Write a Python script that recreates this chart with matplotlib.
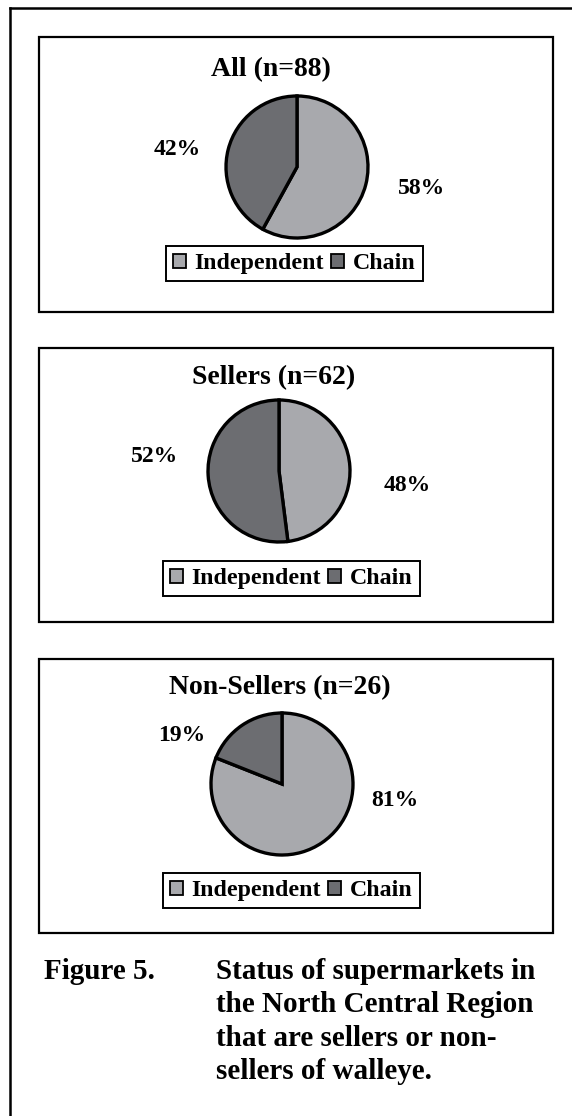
import numpy as np
import matplotlib
matplotlib.use("Agg")
import matplotlib.pyplot as plt
from matplotlib.patches import Rectangle, Patch

# chart data
categories = ["Independent", "Chain"]
panel_titles = ["All (n=88)", "Sellers (n=62)", "Non-Sellers (n=26)"]
all_values = [58, 42]
sellers_values = [48, 52]
nonsellers_values = [81, 19]
caption_label = "Figure 5."
caption_lines = ["Status of supermarkets in",
                 "the North Central Region",
                 "that are sellers or non-",
                 "sellers of walleye."]

# layout (pixels)
W, H = 572, 1116
colors = ["#a8a9ad", "#6c6d71"]
panels = [(39, 37, 553, 312), (39, 348, 553, 622), (39, 659, 553, 933)]
pie_centers = [(297, 167), (279, 471), (282, 784)]
pie_r = 71
title_pos = [(271, 70), (274, 378), (280, 688)]
legend_box = [(166, 246), (163, 561), (163, 873)]
# label offsets relative to pie centre, in radii
label_xy = [[(1.76, -0.30), (-1.69, 0.24)],
            [(1.80, -0.20), (-1.75, 0.20)],
            [(1.59, -0.23), (-1.41, 0.69)]]

serif = ["Liberation Serif", "DejaVu Serif"]

fig = plt.figure(figsize=(W / 100, H / 100), dpi=100)
bg = fig.add_axes([0, 0, 1, 1])
bg.set_xlim(0, W)
bg.set_ylim(H, 0)
bg.axis("off")

# outer frame (left and top edges only visible)
bg.plot([10, 10], [H + 5, 8], color="black", lw=1.8, solid_capstyle="projecting")
bg.plot([10, W + 5], [8, 8], color="black", lw=1.8, solid_capstyle="projecting")

series = [all_values, sellers_values, nonsellers_values]
for i, values in enumerate(series):
    x0, y0, x1, y1 = panels[i]
    bg.add_patch(Rectangle((x0, y0), x1 - x0, y1 - y0, fill=False,
                           edgecolor="black", lw=1.6))
    tx, ty = title_pos[i]
    bg.text(tx, ty, panel_titles[i], ha="center", va="center",
            fontsize=20, fontweight="bold", family=serif)

    cx, cy = pie_centers[i]
    ax = fig.add_axes([(cx - 2 * pie_r) / W, 1 - (cy + 2 * pie_r) / H,
                       4 * pie_r / W, 4 * pie_r / H])
    ax.pie(values, colors=colors, startangle=90, counterclock=False,
           radius=1, wedgeprops=dict(edgecolor="black", linewidth=2.4))
    ax.set_xlim(-2, 2)
    ax.set_ylim(-2, 2)
    ax.axis("off")
    for j, v in enumerate(values):
        lx, ly = label_xy[i][j]
        ax.text(lx, ly, f"{v}%", ha="center", va="center",
                fontsize=17, fontweight="bold", family=serif)

    handles = [Patch(facecolor=c, edgecolor="black", lw=1.3) for c in colors]
    lx, ly = legend_box[i]
    leg = fig.legend(handles, categories, ncol=2, loc="upper left",
                     bbox_to_anchor=(lx / W, 1 - ly / H),
                     prop=dict(family=serif, weight="bold", size=17.2),
                     handlelength=0.55, handleheight=0.55, handletextpad=0.35,
                     columnspacing=0.3, borderpad=0.3, borderaxespad=0,
                     fancybox=False, framealpha=1)
    leg.get_frame().set_edgecolor("black")
    leg.get_frame().set_linewidth(1.4)

# caption
bg.text(44, 979, caption_label, ha="left", va="baseline",
        fontsize=21, fontweight="bold", family=serif)
for k, line in enumerate(caption_lines):
    bg.text(216, 979 + 33.4 * k, line, ha="left", va="baseline",
            fontsize=21, fontweight="bold", family=serif)

fig.savefig("out.png", dpi=100)
